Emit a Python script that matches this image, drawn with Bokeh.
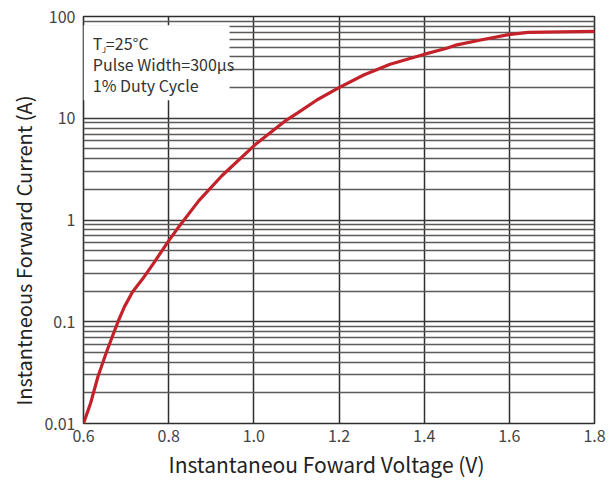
from bokeh.plotting import figure
from bokeh.models import FixedTicker, Label, BoxAnnotation, Title
from bokeh.embed import file_html
from bokeh.resources import INLINE

voltage = [0.600, 0.617, 0.634, 0.653, 0.669, 0.681, 0.696, 0.715, 0.739, 0.766,
           0.800, 0.824, 0.871, 0.925, 1.002, 1.072, 1.103, 1.149, 1.200, 1.258,
           1.320, 1.399, 1.451, 1.474, 1.530, 1.598, 1.644, 1.723, 1.800]
current = [0.01, 0.016, 0.029, 0.049, 0.074, 0.1, 0.14, 0.196, 0.264, 0.384,
           0.624, 0.86, 1.55, 2.72, 5.45, 9.3, 11.3, 15.2, 20.0, 26.6,
           33.9, 42.4, 48.5, 52.3, 58.4, 66.4, 69.8, 70.6, 71.4]

x_ticks = [0.6, 0.8, 1.0, 1.2, 1.4, 1.6, 1.8]
x_tick_labels = ["0.6", "0.8", "1.0", "1.2", "1.4", "1.6", "1.8"]
y_ticks = [0.01, 0.1, 1, 10, 100]
y_tick_labels = ["0.01", "0.1", "1", "10", "100"]
y_minor = [d * k for d in y_ticks[:-1] for k in range(2, 10)]

x_title = "Instantaneou Foward Voltage (V)"
y_title = "Instantneous Forward Current (A)"
notes = ["=25°C", "Pulse Width=300µs", "1% Duty Cycle"]

FONT = "Noto Sans CJK SC"
TXT = "#333333"

p = figure(width=606, height=481, y_axis_type="log",
           x_range=(0.6, 1.8), y_range=(0.01, 100),
           output_backend="svg", toolbar_location=None,
           min_border_left=83, min_border_right=12,
           min_border_top=16, min_border_bottom=55,
           background_fill_color="white", border_fill_color="white")

p.outline_line_color = "#2e2e2e"
p.outline_line_width = 1.6

# axes
p.xaxis.ticker = FixedTicker(ticks=x_ticks)
p.xaxis.major_label_overrides = dict(zip(x_ticks, x_tick_labels))
p.yaxis.ticker = FixedTicker(ticks=y_ticks)
p.yaxis.major_label_overrides = dict(zip(y_ticks, y_tick_labels))
for ax in (p.xaxis, p.yaxis):
    ax.axis_line_color = None
    ax.major_tick_line_color = None
    ax.minor_tick_line_color = None
    ax.major_tick_out = 0
    ax.major_tick_in = 0
    ax.minor_tick_out = 0
    ax.minor_tick_in = 0
    ax.major_label_text_font = FONT
    ax.major_label_text_font_size = "16px"
    ax.major_label_text_color = "#444444"
p.xaxis.major_label_standoff = 6
p.yaxis.major_label_standoff = 8

# axis titles as side-panel titles (offset along the axis like the reference)
p.add_layout(Title(text=x_title, align="left", offset=85, standoff=5,
                   text_font=FONT, text_font_size="21px",
                   text_font_style="normal", text_color="#222222"), "below")
p.add_layout(Title(text=y_title, align="left", offset=18, standoff=8,
                   text_font=FONT, text_font_size="20px",
                   text_font_style="normal", text_color="#222222"), "left")

# grid
p.xgrid.ticker = FixedTicker(ticks=x_ticks)
p.xgrid.grid_line_color = "#2e2e2e"
p.xgrid.grid_line_width = 1.5
p.ygrid.ticker = FixedTicker(ticks=y_ticks, minor_ticks=y_minor)
p.ygrid.grid_line_color = "#3a3a3a"
p.ygrid.grid_line_width = 1.5
p.ygrid.minor_grid_line_color = "#5e5a58"
p.ygrid.minor_grid_line_width = 1.5

# curve
p.line(voltage, current, line_color="#c4222a", line_width=3.2)

# note box
box = BoxAnnotation(left=0.6, right=0.943, bottom=15.0, top=82.0,
                    fill_color="white", fill_alpha=1.0, line_color=None)
p.add_layout(box)

note_x = 0.622
note_y = [54.6, 34.0, 21.2]
p.add_layout(Label(x=note_x, y=note_y[0], text="T", text_font=FONT,
                   text_font_size="16px", text_color=TXT, text_baseline="middle"))
p.add_layout(Label(x=note_x, y=note_y[0], text="J", text_font=FONT,
                   text_font_size="8px", text_color=TXT, text_baseline="middle",
                   x_offset=9, y_offset=-6))
p.add_layout(Label(x=note_x, y=note_y[0], text=notes[0], text_font=FONT,
                   text_font_size="16px", text_color=TXT, text_baseline="middle",
                   x_offset=13))
for t, yy in zip(notes[1:], note_y[1:]):
    p.add_layout(Label(x=note_x, y=yy, text=t, text_font=FONT,
                       text_font_size="16px", text_color=TXT, text_baseline="middle"))

open("out.html", "w").write(file_html(p, INLINE))
